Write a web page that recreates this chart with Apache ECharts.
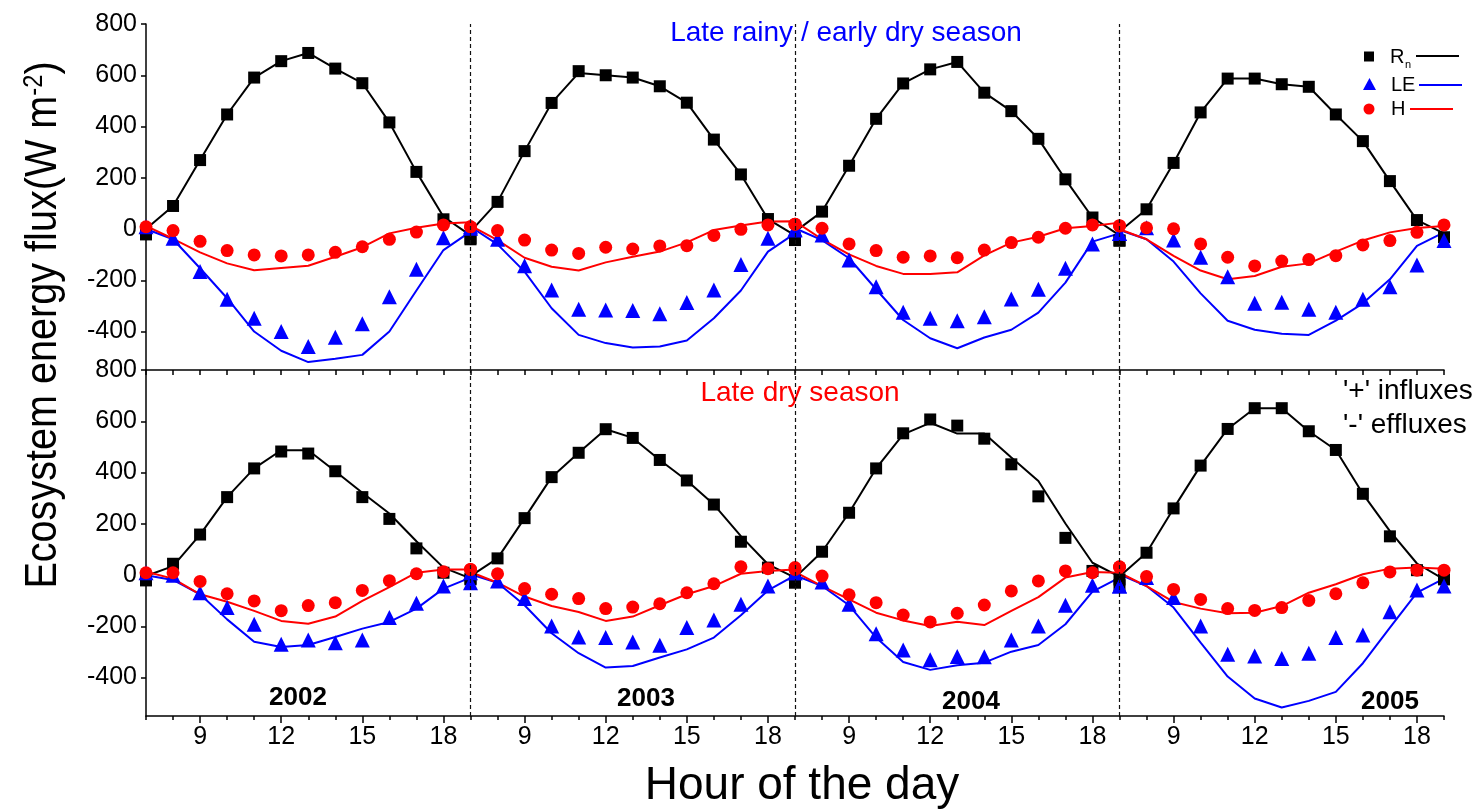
<!DOCTYPE html>
<html>
<head>
<meta charset="utf-8">
<script src="https://cdn.jsdelivr.net/npm/echarts@6/dist/echarts.min.js"></script>
<style>
  html, body { margin: 0; padding: 0; background: #fff; }
  #chart { width: 1475px; height: 810px; }
</style>
</head>
<body>
<div id="chart"></div>
<script>
// Hours of each daily cycle and the years shown side by side
const hours = [7, 8, 9, 10, 11, 12, 13, 14, 15, 16, 17, 18, 19];
const years = ['2002', '2003', '2004', '2005'];
const hourLabels = [9, 12, 15, 18];
const fluxTicks = [-400, -200, 0, 200, 400, 600, 800];

// Late rainy / early dry season: one row per year (W m-2)
const wetRnObs = [
  [-21, 90, 269, 447, 591, 655, 687, 626, 569, 416, 223, 38, -40],
  [-36, 106, 304, 492, 616, 600, 591, 557, 493, 349, 213, 39, -43],
  [-36, 68, 247, 430, 568, 623, 652, 532, 460, 352, 194, 45, -45],
  [-45, 77, 258, 455, 587, 587, 565, 555, 447, 343, 187, 35, -32]
];
const wetRnMod = [
  [0, 90, 269, 447, 591, 655, 687, 626, 569, 416, 223, 48, -25],
  [-10, 106, 304, 492, 609, 600, 591, 557, 493, 349, 213, 39, -25],
  [-10, 68, 247, 430, 568, 623, 652, 532, 460, 352, 194, 45, -25],
  [-10, 77, 258, 455, 587, 587, 565, 555, 447, 343, 187, 35, -17]
];
const wetLEObs = [
  [9, -36, -166, -274, -348, -400, -458, -422, -370, -264, -157, -34, 3],
  [9, -40, -143, -238, -313, -316, -318, -331, -287, -238, -138, -36, -4],
  [-1, -23, -121, -225, -325, -348, -358, -342, -273, -235, -153, -58, -17],
  [-17, 5, -43, -110, -186, -290, -286, -313, -325, -274, -225, -140, -45]
];
const wetLEMod = [
  [0, -40, -153, -270, -400, -475, -519, -506, -491, -400, -240, -82, -10],
  [9, -60, -166, -309, -413, -445, -462, -458, -435, -348, -240, -88, -17],
  [3, -43, -114, -235, -355, -426, -465, -423, -393, -326, -209, -49, -17],
  [-4, -40, -127, -251, -358, -393, -409, -413, -357, -290, -196, -66, -13]
];
const wetHObs = [
  [9, -6, -48, -84, -101, -105, -101, -91, -69, -40, -12, 16, 9],
  [9, -6, -43, -82, -95, -71, -78, -66, -65, -25, -1, 16, 19],
  [19, 3, -58, -84, -110, -105, -112, -82, -53, -32, 3, 16, 12],
  [13, 5, 1, -58, -110, -144, -125, -119, -104, -62, -45, -13, 16]
];
const wetHMod = [
  [12, -38, -91, -134, -161, -152, -143, -108, -71, -17, 5, 22, 26],
  [13, -43, -112, -147, -162, -130, -108, -88, -52, -4, 14, 29, 30],
  [25, -40, -99, -144, -175, -175, -169, -103, -53, -30, 3, 12, 25],
  [-1, -40, -105, -162, -196, -183, -147, -134, -88, -45, -13, 4, 12]
];

// Late dry season: one row per year (W m-2)
const dryRnObs = [
  [-21, 44, 158, 304, 416, 482, 474, 405, 304, 219, 104, 9, -17],
  [-14, 65, 222, 382, 477, 569, 535, 449, 369, 275, 130, 29, -30],
  [-23, 91, 243, 416, 553, 607, 583, 532, 432, 307, 145, 16, -40],
  [-17, 87, 260, 427, 570, 651, 651, 561, 488, 317, 151, 19, -17]
];
const dryRnMod = [
  [-4, 35, 158, 304, 416, 487, 487, 405, 321, 240, 132, 29, -13],
  [-4, 65, 222, 382, 477, 569, 535, 449, 369, 275, 152, 42, -10],
  [-4, 91, 243, 416, 549, 594, 552, 552, 459, 367, 201, 48, -6],
  [-1, 87, 260, 427, 570, 651, 651, 561, 488, 317, 171, 45, -17]
];
const dryLEObs = [
  [9, -1, -69, -127, -192, -270, -253, -264, -253, -166, -110, -43, -30],
  [9, -23, -92, -199, -242, -244, -261, -274, -205, -175, -114, -43, 9],
  [9, -27, -114, -229, -292, -331, -318, -319, -253, -199, -118, -40, -43],
  [-43, -10, -88, -199, -309, -316, -326, -305, -244, -234, -143, -58, -43]
];
const dryLEMod = [
  [-1, -19, -75, -173, -260, -281, -273, -242, -209, -183, -131, -53, -10],
  [3, -30, -118, -227, -305, -361, -355, -322, -290, -244, -157, -60, -1],
  [3, -43, -118, -244, -339, -370, -352, -342, -299, -273, -192, -65, -10],
  [3, -43, -127, -264, -396, -482, -517, -491, -456, -344, -205, -69, -14]
];
const dryHObs = [
  [9, 9, -25, -73, -101, -139, -119, -108, -60, -22, 5, 13, 22],
  [22, 5, -53, -75, -92, -131, -125, -112, -69, -34, 32, 25, 29],
  [22, -4, -77, -108, -156, -183, -149, -117, -62, -23, 16, 9, 32],
  [31, -6, -56, -95, -131, -138, -127, -99, -73, -30, 12, 19, 19]
];
const dryHMod = [
  [13, -14, -75, -104, -140, -179, -190, -162, -101, -47, 9, 22, 22],
  [12, -30, -84, -121, -144, -179, -162, -118, -75, -43, 5, 16, 22],
  [12, -43, -95, -147, -177, -199, -182, -195, -140, -86, -10, 12, 9],
  [9, -43, -105, -131, -149, -147, -121, -69, -36, 3, 25, 29, 25]
];

const FONT = '"Liberation Sans", Arial, sans-serif';
const BLACK = '#000000', BLUE = '#0000ff', RED = '#ff0000';

// The days are laid end to end on one axis: each day spans 7 h .. 19 h
const dayLen = hours[hours.length - 1] - hours[0];
const axisMax = dayLen * years.length;
const toX = (d, h) => d * dayLen + (h - hours[0]);
const dayBreaks = years.slice(1).map((y, i) => (i + 1) * dayLen);
const labelPositions = [];
years.forEach((y, d) => hourLabels.forEach(h => labelPositions.push(toX(d, h))));
const hourOf = x => String(Math.round(x % dayLen) + hours[0]);

function toPoints(rows) {
  const out = [];
  rows.forEach((row, d) => row.forEach((v, i) => out.push([toX(d, hours[i]), v])));
  return out;
}

function lineSeries(rows, color, g, withBreaks) {
  const s = {
    type: 'line', xAxisIndex: g === 0 ? 0 : 1, yAxisIndex: g,
    data: toPoints(rows), symbol: 'none', silent: true,
    lineStyle: { color: color, width: 2 }, itemStyle: { color: color },
    z: 2
  };
  if (withBreaks) {
    s.markLine = {
      symbol: ['none', 'none'], silent: true, label: { show: false },
      lineStyle: { color: '#111', type: [4, 3], width: 1.2 },
      data: dayBreaks.map(x => ({ xAxis: x }))
    };
  }
  return s;
}
function scatterSeries(rows, color, symbol, size, g) {
  return {
    type: 'scatter', xAxisIndex: g === 0 ? 0 : 1, yAxisIndex: g,
    data: toPoints(rows), symbol: symbol, symbolSize: size, silent: true,
    itemStyle: { color: color, opacity: 1 }, z: 3
  };
}

const series = [];
[[wetRnMod, wetLEMod, wetHMod, wetRnObs, wetLEObs, wetHObs],
 [dryRnMod, dryLEMod, dryHMod, dryRnObs, dryLEObs, dryHObs]].forEach((set, g) => {
  series.push(lineSeries(set[0], BLACK, g, true));
  series.push(lineSeries(set[1], BLUE, g, false));
  series.push(lineSeries(set[2], RED, g, false));
  series.push(scatterSeries(set[3], BLACK, 'rect', 12, g));
  series.push(scatterSeries(set[4], BLUE, 'triangle', 15, g));
  series.push(scatterSeries(set[5], RED, 'circle', 13, g));
});

const axisLineStyle = { color: BLACK, width: 1.5 };
const yAxisBase = g => ({
  type: 'value', gridIndex: g, min: -550, max: 800,
  axisLine: { show: true, lineStyle: axisLineStyle },
  axisTick: { show: true, inside: false, length: 5, customValues: fluxTicks, lineStyle: axisLineStyle },
  axisLabel: { show: true, customValues: fluxTicks, color: BLACK, fontSize: 25, fontFamily: FONT, margin: 9 },
  splitLine: { show: false }
});

const option = {
  animation: false,
  backgroundColor: '#ffffff',
  grid: [
    { left: 146, top: 24, width: 1298, height: 346 },
    { left: 146, top: 370, width: 1298, height: 346 }
  ],
  xAxis: [
    { // upper panel: hourly ticks only
      type: 'value', gridIndex: 0, min: 0, max: axisMax, interval: 1, position: 'bottom',
      axisLine: { show: true, onZero: false, lineStyle: axisLineStyle },
      axisTick: { show: true, inside: false, length: 5, lineStyle: axisLineStyle },
      axisLabel: { show: false }, splitLine: { show: false }
    },
    { // lower panel: labelled hours
      type: 'value', gridIndex: 1, min: 0, max: axisMax, interval: 1, position: 'bottom',
      axisLine: { show: true, onZero: false, lineStyle: axisLineStyle },
      axisTick: { show: true, inside: false, length: 7, customValues: labelPositions, lineStyle: axisLineStyle },
      axisLabel: { show: true, customValues: labelPositions, formatter: v => hourOf(v),
                   color: BLACK, fontSize: 25, fontFamily: FONT, margin: 9 },
      splitLine: { show: false }
    },
    { // lower panel: hourly minor ticks
      type: 'value', gridIndex: 1, min: 0, max: axisMax, interval: 1, position: 'bottom', offset: 0,
      axisLine: { show: false, onZero: false },
      axisTick: { show: true, inside: false, length: 4, lineStyle: axisLineStyle },
      axisLabel: { show: false }, splitLine: { show: false }
    }
  ],
  yAxis: [yAxisBase(0), yAxisBase(1)],
  series: series,
  graphic: [
    // axis titles
    { type: 'text', x: 44, y: 325, rotation: Math.PI / 2, scaleX: 0.88, silent: true,
      style: { text: '{a|Ecosystem energy flux(W m}{s|-2}{a|)}', align: 'center', verticalAlign: 'middle',
               fill: BLACK, font: '45px ' + FONT,
               rich: { a: { fontSize: 45, fontFamily: FONT, fill: BLACK },
                       s: { fontSize: 27, fontFamily: FONT, fill: BLACK, verticalAlign: 'top' } } } },
    { type: 'text', x: 802, y: 786, silent: true,
      style: { text: 'Hour of the day', align: 'center', verticalAlign: 'middle', fill: BLACK, font: '46px ' + FONT } },
    // season captions
    { type: 'text', x: 846, y: 33, silent: true,
      style: { text: 'Late rainy / early dry season', align: 'center', verticalAlign: 'middle', fill: BLUE, font: '28px ' + FONT } },
    { type: 'text', x: 800, y: 393, silent: true,
      style: { text: 'Late dry season', align: 'center', verticalAlign: 'middle', fill: RED, font: '28px ' + FONT } },
    { type: 'text', x: 1343, y: 391, silent: true,
      style: { text: "'+' influxes", align: 'left', verticalAlign: 'middle', fill: BLACK, font: '28px ' + FONT } },
    { type: 'text', x: 1343, y: 425, silent: true,
      style: { text: "'-' effluxes", align: 'left', verticalAlign: 'middle', fill: BLACK, font: '28px ' + FONT } },
    // year captions
    { type: 'text', x: 298, y: 698, silent: true,
      style: { text: years[0], align: 'center', verticalAlign: 'middle', fill: BLACK, font: 'bold 26px ' + FONT } },
    { type: 'text', x: 646, y: 699, silent: true,
      style: { text: years[1], align: 'center', verticalAlign: 'middle', fill: BLACK, font: 'bold 26px ' + FONT } },
    { type: 'text', x: 971, y: 702, silent: true,
      style: { text: years[2], align: 'center', verticalAlign: 'middle', fill: BLACK, font: 'bold 26px ' + FONT } },
    { type: 'text', x: 1390, y: 702, silent: true,
      style: { text: years[3], align: 'center', verticalAlign: 'middle', fill: BLACK, font: 'bold 26px ' + FONT } },
    // key: marker, name, line
    { type: 'rect', shape: { x: 1364, y: 51.5, width: 10, height: 10 }, style: { fill: BLACK }, silent: true },
    { type: 'text', x: 1390, y: 57, silent: true,
      style: { text: 'R', align: 'left', verticalAlign: 'middle', fill: BLACK, font: '20px ' + FONT } },
    { type: 'text', x: 1405, y: 65, silent: true,
      style: { text: 'n', align: 'left', verticalAlign: 'middle', fill: BLACK, font: '11px ' + FONT } },
    { type: 'line', shape: { x1: 1416, y1: 56, x2: 1459, y2: 56 }, style: { stroke: BLACK, lineWidth: 2 }, silent: true },
    { type: 'polygon', shape: { points: [[1369.5, 78], [1376, 90], [1363, 90]] }, style: { fill: BLUE }, silent: true },
    { type: 'text', x: 1391, y: 85, silent: true,
      style: { text: 'LE', align: 'left', verticalAlign: 'middle', fill: BLACK, font: '20px ' + FONT } },
    { type: 'line', shape: { x1: 1419, y1: 85, x2: 1462, y2: 85 }, style: { stroke: BLUE, lineWidth: 2 }, silent: true },
    { type: 'circle', shape: { cx: 1369, cy: 109, r: 5.5 }, style: { fill: RED }, silent: true },
    { type: 'text', x: 1391, y: 109, silent: true,
      style: { text: 'H', align: 'left', verticalAlign: 'middle', fill: BLACK, font: '20px ' + FONT } },
    { type: 'line', shape: { x1: 1410, y1: 109, x2: 1453, y2: 109 }, style: { stroke: RED, lineWidth: 2 }, silent: true }
  ]
};

const chart = echarts.init(document.getElementById('chart'), null, { renderer: 'canvas' });
chart.setOption(option);
</script>
</body>
</html>
